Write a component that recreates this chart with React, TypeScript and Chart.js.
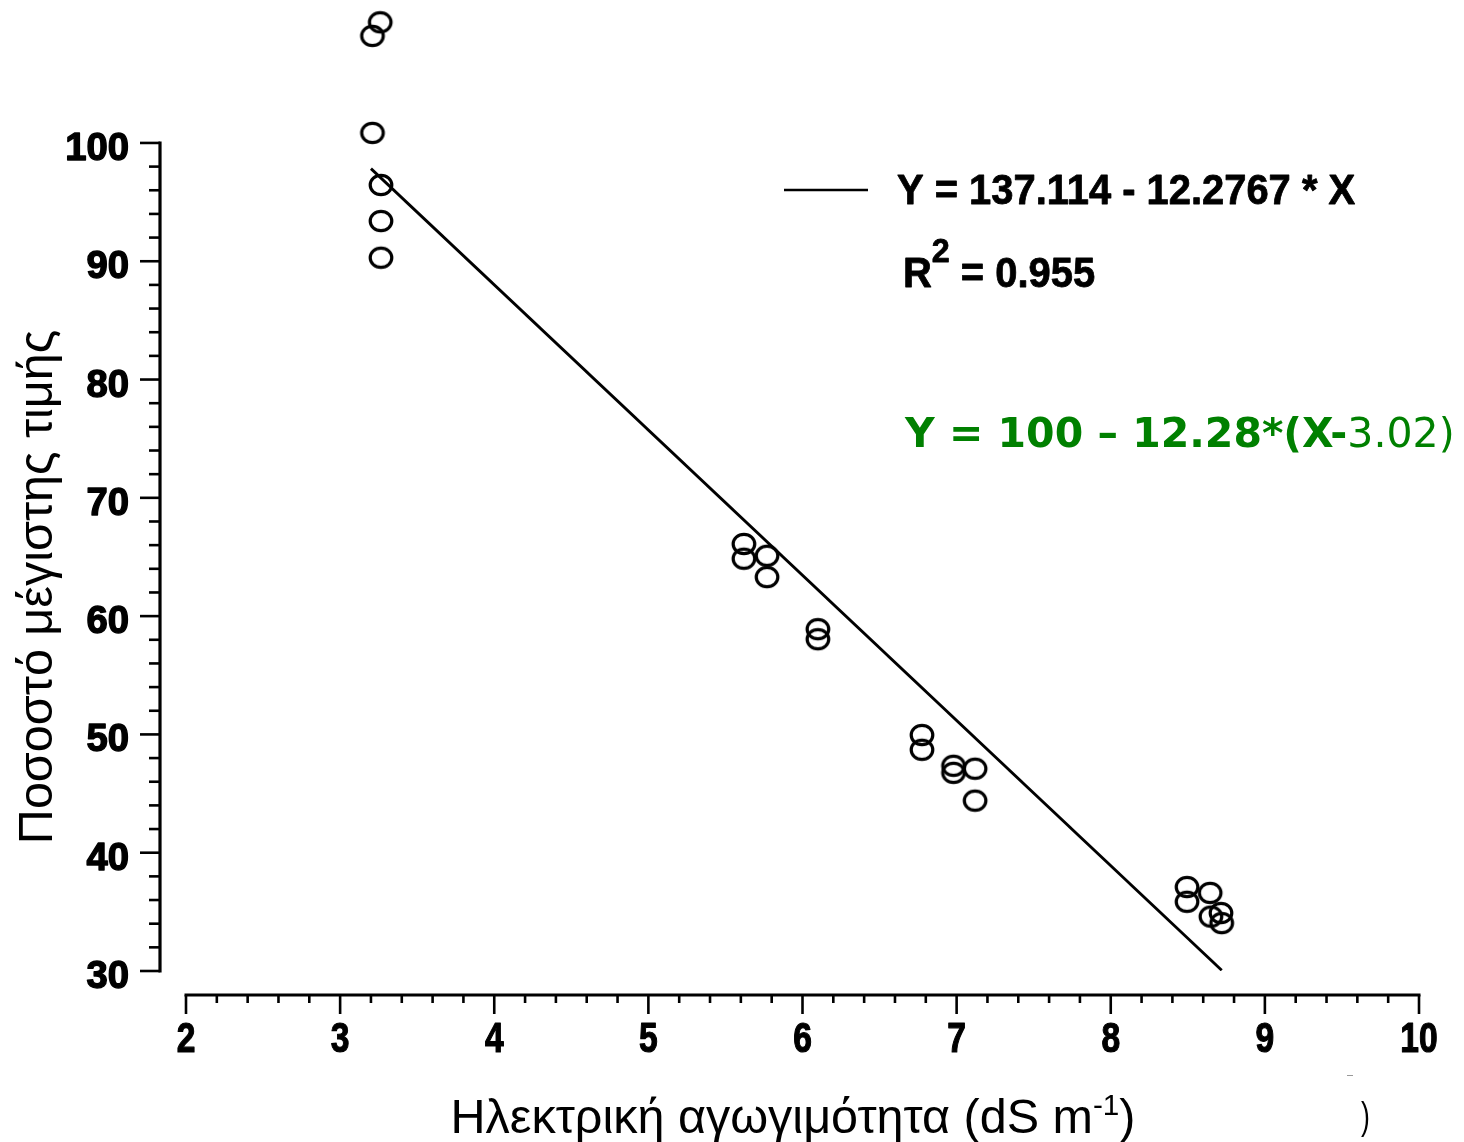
import React, { useEffect, useRef } from "react";
import { Chart, registerables } from "chart.js";

Chart.register(...registerables);

// Electrical conductivity (dS m-1) of each sample
const conductivity = [
  3.26, 3.21, 3.21, 3.265, 3.265, 3.265,
  5.62, 5.62, 5.77, 5.77, 6.1, 6.1,
  6.775, 6.775, 6.98, 6.98, 7.12, 7.12,
  8.495, 8.495, 8.645, 8.65, 8.715, 8.72,
];

// Percentage of maximum value for each sample
const percentOfMax = [
  110.2, 109.05, 100.85, 96.45, 93.4, 90.3,
  66.1, 64.85, 65.1, 63.3, 58.9, 58.05,
  49.95, 48.7, 47.35, 46.75, 47.1, 44.4,
  37.1, 35.85, 36.6, 34.6, 34.9, 34.05,
];

// Fitted regression Y = 137.114 - 12.2767 * X over the sampled range
const fitIntercept = 137.114;
const fitSlope = -12.2767;
const fitRange = [3.2, 8.72];

const xTickValues = [2, 3, 4, 5, 6, 7, 8, 9, 10];
const yTickValues = [30, 40, 50, 60, 70, 80, 90, 100];
const xMinorStep = 0.2;
const yMinorStep = 2;
// Vertical room kept above the last labelled tick for the highest samples
const yScaleTop = 112;

const xTitle = "Ηλεκτρική αγωγιμότητα (dS m";
const xTitleSup = "-1";
const yTitle = "Ποσοστό μέγιστης τιμής";
const fitLabel = "Y = 137.114 - 12.2767 * X";
const r2Label = "0.955";
const modelLabelBold = "Y = 100 – 12.28*(X-";
const modelLabelRegular = "3.02)";

type Run = { text: string; font: string; dy?: number; color?: string; heavy?: number };

function drawRuns(
  ctx: CanvasRenderingContext2D,
  runs: Run[],
  x: number,
  y: number,
  align: "left" | "center" | "right",
  sx = 1
) {
  ctx.save();
  const widths = runs.map((r) => {
    ctx.font = r.font;
    return ctx.measureText(r.text).width;
  });
  const total = widths.reduce((a, b) => a + b, 0);
  ctx.translate(x, y);
  ctx.scale(sx, 1);
  let cx = align === "left" ? 0 : align === "center" ? -total / 2 : -total;
  ctx.textAlign = "left";
  ctx.textBaseline = "alphabetic";
  ctx.lineJoin = "round";
  runs.forEach((r, i) => {
    ctx.font = r.font;
    ctx.fillStyle = r.color || "#000";
    ctx.fillText(r.text, cx, r.dy || 0);
    if (r.heavy) {
      ctx.strokeStyle = r.color || "#000";
      ctx.lineWidth = r.heavy;
      ctx.strokeText(r.text, cx, r.dy || 0);
    }
    cx += widths[i];
  });
  ctx.restore();
}

function makeMarker(): HTMLCanvasElement {
  const c = document.createElement("canvas");
  c.width = 30;
  c.height = 28;
  const g = c.getContext("2d")!;
  g.strokeStyle = "#000";
  g.lineWidth = 3.2;
  g.beginPath();
  g.ellipse(15, 14, 10.8, 9.7, 0, 0, Math.PI * 2);
  g.stroke();
  return c;
}

const axesPlugin = {
  id: "offsetAxes",
  afterDraw(chart: any) {
    const { ctx } = chart;
    const xs = chart.scales.x;
    const ys = chart.scales.y;
    const yMin = yTickValues[0];
    const yMax = yTickValues[yTickValues.length - 1];
    const xMin = xTickValues[0];
    const xMax = xTickValues[xTickValues.length - 1];

    const yAxisPx = xs.getPixelForValue(xMin) - 26;
    const xAxisPx = ys.getPixelForValue(yMin) + 24;

    ctx.save();
    ctx.strokeStyle = "#000";
    ctx.lineCap = "butt";

    // Y axis
    ctx.lineWidth = 3.2;
    ctx.beginPath();
    ctx.moveTo(yAxisPx, ys.getPixelForValue(yMax) - 1.5);
    ctx.lineTo(yAxisPx, ys.getPixelForValue(yMin) + 1.5);
    ctx.stroke();
    ctx.lineWidth = 2.6;
    for (let v = yMin; v <= yMax + 1e-9; v += yMinorStep) {
      const major = Math.abs(v / 10 - Math.round(v / 10)) < 1e-6;
      const py = ys.getPixelForValue(v);
      ctx.beginPath();
      ctx.moveTo(yAxisPx, py);
      ctx.lineTo(yAxisPx - (major ? 20 : 11), py);
      ctx.stroke();
    }
    yTickValues.forEach((v) => {
      drawRuns(
        ctx,
        [{ text: String(v), font: "bold 39px 'Liberation Sans'", heavy: 1.4 }],
        129,
        ys.getPixelForValue(v) + 17,
        "right",
        0.98
      );
    });

    // X axis
    ctx.lineWidth = 3.2;
    ctx.beginPath();
    ctx.moveTo(xs.getPixelForValue(xMin) - 1.5, xAxisPx);
    ctx.lineTo(xs.getPixelForValue(xMax) + 1.5, xAxisPx);
    ctx.stroke();
    ctx.lineWidth = 2.6;
    for (let v = xMin; v <= xMax + 1e-9; v += xMinorStep) {
      const major = Math.abs(v - Math.round(v)) < 1e-6;
      const px = xs.getPixelForValue(v);
      ctx.beginPath();
      ctx.moveTo(px, xAxisPx);
      ctx.lineTo(px, xAxisPx + (major ? 19 : 8));
      ctx.stroke();
    }
    xTickValues.forEach((v) => {
      drawRuns(
        ctx,
        [{ text: String(v), font: "bold 42px 'Liberation Sans'", heavy: 1.2 }],
        xs.getPixelForValue(v),
        1052,
        "center",
        0.8
      );
    });

    // Axis titles
    drawRuns(
      ctx,
      [
        { text: xTitle, font: "49px 'Liberation Sans'" },
        { text: xTitleSup, font: "30px 'Liberation Sans'", dy: -18 },
        { text: ")", font: "49px 'Liberation Sans'" },
      ],
      793,
      1133,
      "center",
      0.99
    );
    ctx.save();
    ctx.translate(52, 587);
    ctx.rotate(-Math.PI / 2);
    drawRuns(ctx, [{ text: yTitle, font: "49px 'Liberation Sans'" }], 0, 0, "center", 0.99);
    ctx.restore();

    // Regression legend
    ctx.lineWidth = 2.6;
    ctx.beginPath();
    ctx.moveTo(784, 190);
    ctx.lineTo(868, 190);
    ctx.stroke();
    drawRuns(ctx, [{ text: fitLabel, font: "bold 42px 'Liberation Sans'", heavy: 0.8 }], 897, 204, "left", 0.95);
    drawRuns(
      ctx,
      [
        { text: "R", font: "bold 42px 'Liberation Sans'", heavy: 0.8 },
        { text: "2", font: "bold 34px 'Liberation Sans'", dy: -25, heavy: 0.8 },
        { text: " = " + r2Label, font: "bold 42px 'Liberation Sans'", heavy: 0.8 },
      ],
      903,
      287,
      "left",
      0.95
    );

    // Model equation
    drawRuns(
      ctx,
      [
        { text: modelLabelBold, font: "bold 41px 'DejaVu Sans'", color: "#008000" },
        { text: modelLabelRegular, font: "41px 'DejaVu Sans'", color: "#008000" },
      ],
      905,
      447,
      "left",
      1
    );

    // Stray marks at the lower right
    drawRuns(ctx, [{ text: ")", font: "38px 'Liberation Sans'" }], 1361, 1129, "left", 0.7);
    ctx.strokeStyle = "#999";
    ctx.lineWidth = 1;
    ctx.beginPath();
    ctx.moveTo(1347, 1075.5);
    ctx.lineTo(1353, 1075.5);
    ctx.stroke();

    ctx.restore();
  },
};

export default function App() {
  const canvasRef = useRef<HTMLCanvasElement | null>(null);

  useEffect(() => {
    if (!canvasRef.current) return;
    const marker = makeMarker();
    const points = conductivity.map((x, i) => ({ x, y: percentOfMax[i] }));
    const fitLine = fitRange.map((x) => ({ x, y: fitIntercept + fitSlope * x }));

    const chart = new Chart(canvasRef.current, {
      type: "scatter",
      data: {
        datasets: [
          {
            type: "line",
            label: fitLabel,
            data: fitLine,
            borderColor: "#000",
            borderWidth: 2.8,
            pointRadius: 0,
            fill: false,
          },
          {
            label: yTitle,
            data: points,
            pointStyle: marker as any,
            pointRadius: 11,
          },
        ],
      },
      options: {
        responsive: false,
        animation: false,
        devicePixelRatio: 1,
        layout: { autoPadding: false, padding: { left: 186, right: 45, top: 1, bottom: 171 } },
        plugins: { legend: { display: false }, tooltip: { enabled: false }, title: { display: false } },
        scales: {
          x: { type: "linear", min: xTickValues[0], max: xTickValues[xTickValues.length - 1], display: false },
          y: { type: "linear", min: yTickValues[0], max: yScaleTop, display: false },
        },
      },
      plugins: [axesPlugin],
    });
    return () => chart.destroy();
  }, []);

  return (
    <div style={{ position: "absolute", left: 0, top: 0, width: 1464, height: 1142, background: "#fff" }}>
      <canvas ref={canvasRef} width={1464} height={1142} />
    </div>
  );
}
